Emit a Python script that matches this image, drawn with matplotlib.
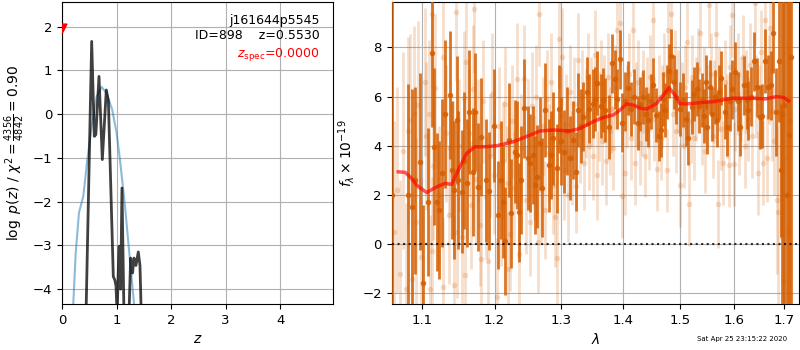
import matplotlib
matplotlib.use('Agg')
import matplotlib.pyplot as plt
import numpy as np
from matplotlib.ticker import FixedLocator, NullLocator, FuncFormatter

# ---------------- left panel data ----------------
z_pz = [0.0, 0.42, 0.44, 0.544, 0.592, 0.62, 0.678, 0.739, 0.812, 0.85, 0.94, 0.97, 0.99, 1.01,
        1.044, 1.075, 1.099, 1.136, 1.20, 1.227, 1.258, 1.294, 1.319, 1.355, 1.398, 1.429, 1.453, 1.48, 5.0]
logpz = [-9.0, -7.0, -4.6, 1.66, -0.51, -0.47, 0.86, -1.04, 0.55, 0.30, -3.71, -3.80, -3.93, -4.6,
         -3.02, -4.0, -1.69, -4.6, -6.0, -4.6, -3.29, -3.63, -3.29, -3.46, -3.15, -3.46, -4.6, -7.0, -9.0]

z_prior = [0.18, 0.207, 0.25, 0.311, 0.39, 0.464, 0.544, 0.635, 0.727, 0.818, 0.92, 1.0, 1.062,
           1.154, 1.245, 1.319, 1.34]
log_prior = [-5.0, -4.32, -3.2, -2.25, -1.88, -1.04, -0.28, 0.40, 0.62, 0.47, 0.10, -0.43, -1.04,
             -2.10, -3.33, -4.32, -4.7]

z_spec = 0.0
pz_max = 1.66
group_name = 'j161644p5545'
obj_id = 898
z_best = 0.5530
chi2_num = 4356
chi2_dof = 4842

# ---------------- right panel data ----------------
# stacked spectrum (dark)
wave_d = [1.061, 1.081, 1.086, 1.091, 1.0971, 1.1013, 1.1079, 1.1125, 1.1159,
          1.1192, 1.1226, 1.127, 1.131, 1.1370, 1.1396, 1.1430, 1.1464, 1.1487, 1.1533, 1.1570,
          1.1603, 1.1639, 1.1687, 1.1720, 1.1756, 1.1807, 1.1874, 1.1925, 1.1987, 1.2053, 1.2090,
          1.2128, 1.2152, 1.2202, 1.2238, 1.2294, 1.2330, 1.2360, 1.2381, 1.2429, 1.2484, 1.2520,
          1.2560, 1.2595, 1.2633, 1.2670, 1.2709, 1.2750, 1.2810, 1.2836, 1.2880, 1.2929, 1.2963,
          1.3000, 1.3037, 1.3090, 1.3138, 1.3190, 1.3232, 1.3270, 1.3310, 1.3350, 1.3403, 1.3450,
          1.3500, 1.3539, 1.3580, 1.3630, 1.3675, 1.3709, 1.3774, 1.3812, 1.3868, 1.3910, 1.3952,
          1.3985, 1.4030, 1.4082, 1.4133, 1.4190, 1.4263, 1.4300, 1.4349, 1.4390, 1.4435, 1.4480,
          1.4522, 1.4566, 1.4627, 1.4666, 1.4700, 1.4736, 1.4770, 1.4804, 1.4843, 1.4881, 1.4925,
          1.4990, 1.5056, 1.5100, 1.5147, 1.5209, 1.5250, 1.5300, 1.5350, 1.5392, 1.5430, 1.5470,
          1.5494, 1.5545, 1.5590, 1.5636, 1.5678, 1.5711, 1.5759, 1.5822, 1.5865, 1.5927, 1.5970,
          1.6016, 1.6070, 1.6124, 1.6187, 1.6249, 1.6281, 1.6340, 1.6398, 1.6450, 1.6514, 1.6560,
          1.6616, 1.6680, 1.6725, 1.6777, 1.6827, 1.6892, 1.6924, 1.6960, 1.7001, 1.7050, 1.7099,
          1.7132]
flux_d = [2.0, 2.0, 1.5, 2.6, 3.35, -1.59, 1.72, 7.76, 3.96,
          1.72, 1.39, 2.9, 5.3, 6.06, 3.01, 2.2, 5.04, 2.6, 2.13, 3.4,
          2.47, 5.37, 2.95, 5.36, 2.33, 4.37, 2.6, 2.17, 4.81, 1.18, 2.6,
          1.72, 0.13, 4.23, 1.25, 3.76, 3.62, 1.29, 2.6, 5.52, 3.5, 3.3,
          3.62, 2.4, 2.75, 4.1, 2.3, 5.45, 3.2, 3.62, 4.3, 3.08, 5.5,
          4.2, 3.76, 4.6, 3.5, 4.23, 2.95, 5.45, 4.8, 5.18, 6.2, 5.5,
          5.7, 5.89, 6.53, 5.6, 5.87, 5.45, 4.77, 7.35, 6.7, 5.9, 7.51,
          4.93, 5.8, 6.33, 5.5, 6.0, 4.91, 5.7, 5.99, 5.3, 5.04, 5.8,
          6.47, 5.26, 4.4, 4.64, 5.9, 5.45, 6.2, 7.05, 7.65, 6.6, 6.0,
          5.5, 5.85, 5.1, 4.3, 5.56, 6.1, 6.3, 5.6, 5.87, 5.2, 6.6,
          4.77, 6.4, 5.3, 5.98, 5.04, 6.2, 6.76, 5.39, 4.78, 5.8, 6.3,
          7.0, 5.8, 4.77, 6.45, 5.86, 5.45, 6.0, 7.44, 6.38, 5.15, 5.2,
          7.46, 6.38, 6.45, 8.57, 5.37, 7.45, 3.0, 5.3, 5.64, 2.0, 4.43,
          7.6]
err_d = [40, 4.5, 4.8, 3.8, 3.6, 3.2, 3.0, 3.0, 3.2,
         2.8, 2.8, 3.0, 3.0, 2.6, 2.8, 2.8, 2.6, 2.8, 2.5, 2.8,
         2.6, 2.5, 2.6, 2.4, 2.6, 2.4, 2.5, 2.4, 2.3, 2.2, 2.4,
         2.3, 2.2, 2.3, 2.2, 2.1, 2.2, 2.0, 2.2, 2.0, 2.1, 2.0,
         2.0, 2.0, 2.1, 1.9, 2.0, 1.9, 1.9, 1.8, 1.9, 1.8, 1.8,
         1.8, 1.7, 1.8, 1.7, 1.6, 1.6, 1.5, 1.5, 1.4, 1.4, 1.4,
         1.4, 1.3, 1.3, 1.3, 1.3, 1.3, 1.3, 1.2, 1.2, 1.2, 1.2,
         1.2, 1.2, 1.1, 1.1, 1.1, 1.1, 1.1, 1.1, 1.1, 1.1, 1.1,
         1.1, 1.1, 1.0, 1.1, 1.1, 1.1, 1.1, 1.1, 1.1, 1.1, 1.1,
         1.1, 1.1, 1.1, 1.1, 1.1, 1.1, 1.1, 1.1, 1.1, 1.1, 1.1,
         1.1, 1.1, 1.1, 1.1, 1.1, 1.1, 1.1, 1.1, 1.2, 1.2, 1.2,
         1.2, 1.2, 1.2, 1.2, 1.2, 1.2, 1.2, 1.2, 1.2, 1.3, 1.3,
         1.3, 1.3, 1.4, 1.6, 1.8, 2.5, 2.7, 15, 20, 30, 30,
         40]

# individual beams (light)
wave_l = [1.0635, 1.0670, 1.0705, 1.0745, 1.0787, 1.0815, 1.0841, 1.0860, 1.0890, 1.0920, 1.0948, 1.0985,
          1.1030, 1.1045, 1.1088, 1.1105, 1.1130, 1.1146, 1.1169, 1.1135, 1.1230, 1.1274, 1.1280, 1.1320,
          1.1354, 1.1380, 1.1410, 1.1425, 1.1450, 1.1470, 1.1500, 1.1533, 1.1560, 1.1580, 1.1590, 1.1630,
          1.1669, 1.1690, 1.1710, 1.1730, 1.1760, 1.1790, 1.1810, 1.1840, 1.1870, 1.1900, 1.1930, 1.1960,
          1.1990, 1.2029, 1.2060, 1.2090, 1.2120, 1.2150, 1.2180, 1.2200, 1.2230, 1.2260, 1.2290, 1.2330,
          1.2360, 1.2390, 1.2430, 1.2460, 1.2490, 1.2520, 1.2550, 1.2580, 1.2610, 1.2635, 1.2665, 1.2690,
          1.2720, 1.2750, 1.2780, 1.2810, 1.2840, 1.2870, 1.2900, 1.2930, 1.2963, 1.2990, 1.3020, 1.3050,
          1.3080, 1.3110, 1.3140, 1.3170, 1.3200, 1.3230, 1.3270, 1.3300, 1.3330, 1.3360, 1.3390, 1.3420,
          1.3450, 1.3480, 1.3510, 1.3540, 1.3567, 1.3600, 1.3630, 1.3660, 1.3690, 1.3720, 1.3750, 1.3780,
          1.3810, 1.3840, 1.3870, 1.3900, 1.3950, 1.3985, 1.4037, 1.4070, 1.4100, 1.4130, 1.4166, 1.4200,
          1.4230, 1.4260, 1.4290, 1.4320, 1.4350, 1.4380, 1.4410, 1.4440, 1.4470, 1.4510, 1.4540, 1.4585,
          1.4620, 1.4650, 1.4680, 1.4710, 1.4760, 1.4790, 1.4843, 1.4870, 1.4900, 1.4930, 1.4960, 1.4996,
          1.5030, 1.5060, 1.5090, 1.5130, 1.5160, 1.5190, 1.5220, 1.5250, 1.5280, 1.5320, 1.5370, 1.5400,
          1.5430, 1.5460, 1.5490, 1.5530, 1.5560, 1.5600, 1.5630, 1.5660, 1.5690, 1.5720, 1.5760, 1.5800,
          1.5830, 1.5870, 1.5900, 1.5930, 1.5960, 1.6000, 1.6030, 1.6070, 1.6100, 1.6140, 1.6170, 1.6210,
          1.6240, 1.6280, 1.6310, 1.6350, 1.6410, 1.6440, 1.6470, 1.6500, 1.6540, 1.6580, 1.6616, 1.6650,
          1.6690, 1.6720, 1.6760, 1.6800, 1.6860, 1.6880, 1.6930, 1.6980, 1.7030, 1.7080, 1.7120]
flux_l = [0.5, 2.2, -1.2, 3.8, -1.83, 4.6, 5.05, -1.42, 5.28, 0.9, 5.65, -0.5,
          6.6, 4.39, 5.3, -1.8, -0.27, 3.18, 6.35, 9.35, 2.0, 7.59, -1.74, 4.5,
          1.2, 3.9, 3.0, -1.65, 9.42, 0.5, 4.0, 0.3, 5.95, -1.25, 7.4, 4.5,
          1.6, 6.3, 9.56, 2.65, 4.2, 0.8, -0.6, 5.8, 1.9, -0.7, 3.6, 6.1,
          2.8, -2.14, 4.8, 1.5, 3.4, 5.7, 2.5, -1.0, 0.4, 5.0, 2.3, 6.7,
          -0.4, 3.9, 6.7, 1.8, 4.5, 0.9, 5.6, 3.1, 6.0, 0.1, 9.35, 2.2,
          4.8, 1.4, 5.9, 3.7, 6.6, 2.4, 1.09, -0.55, 8.33, 5.2, 7.6, 3.0,
          4.9, 2.0, 6.2, 3.5, 5.7, 2.37, 7.5, 4.4, 6.0, 3.3, 5.3, 6.8,
          4.0, 5.8, 3.6, 7.7, 2.8, 5.2, 6.5, 4.2, 5.9, 3.4, 6.8, 4.6,
          5.5, 3.9, 6.4, 8.7, 9.0, 1.97, 2.9, 5.6, 6.9, 4.3, 8.7, 3.3,
          5.7, 6.6, 4.1, 5.3, 6.2, 3.6, 5.9, 4.7, 6.8, 9.1, 5.1, 3.05,
          6.0, 4.3, 5.6, 6.9, 3.0, 8.7, 9.37, 5.3, 7.0, 4.6, 6.2, 2.4,
          5.7, 4.0, 6.4, 8.2, 1.63, 5.0, 6.8, 4.3, 5.9, 7.1, 8.6, 4.9,
          6.3, 3.8, 5.6, 9.7, 6.9, 4.4, 5.8, 8.55, 1.63, 6.3, 4.7, 3.3,
          6.6, 5.2, 3.2, 7.2, 9.3, 3.25, 5.5, 6.9, 4.5, 5.9, 7.6, 4.0,
          6.2, 5.1, 7.3, 4.4, 9.78, 6.0, 2.9, 5.6, 7.8, 3.3, 9.1, 3.5,
          6.7, 8.8, 5.4, 4.2, 1.8, 1.3, 6.2, -1.5, 3.5, 0.5, 5.0]
err_l = [4.5, 4.2, 3.8, 4.0, 3.5, 3.8, 3.5, 3.5, 3.6, 3.4, 3.4, 3.2,
         3.0, 3.0, 3.0, 3.0, 3.0, 3.0, 3.0, 3.0, 2.8, 2.8, 2.8, 2.8,
         2.8, 2.8, 2.8, 2.8, 2.8, 2.7, 2.7, 2.7, 2.7, 2.7, 2.7, 2.6,
         2.6, 2.6, 2.6, 2.6, 2.5, 2.5, 2.5, 2.5, 2.5, 2.5, 2.5, 2.5,
         2.4, 2.4, 2.4, 2.4, 2.4, 2.3, 2.3, 2.3, 2.3, 2.3, 2.3, 2.3,
         2.2, 2.2, 2.2, 2.2, 2.2, 2.2, 2.2, 2.1, 2.1, 2.1, 2.1, 2.1,
         2.0, 2.0, 2.0, 2.0, 2.0, 2.0, 2.0, 2.0, 2.0, 2.0, 2.0, 2.0,
         2.0, 1.9, 1.9, 1.9, 1.9, 1.9, 1.9, 1.9, 1.9, 1.9, 1.8, 1.8,
         1.8, 1.8, 1.8, 1.8, 1.8, 1.8, 1.8, 1.8, 1.8, 1.8, 1.8, 1.8,
         1.8, 1.7, 1.7, 1.7, 1.7, 1.7, 1.7, 1.7, 1.7, 1.7, 1.7, 1.7,
         1.7, 1.7, 1.7, 1.7, 1.7, 1.7, 1.7, 1.7, 1.7, 1.7, 1.7, 1.7,
         1.7, 1.7, 1.7, 1.7, 1.7, 1.7, 1.7, 1.7, 1.7, 1.7, 1.7, 1.7,
         1.7, 1.7, 1.7, 1.7, 1.7, 1.7, 1.7, 1.7, 1.7, 1.7, 1.7, 1.7,
         1.7, 1.7, 1.7, 1.7, 1.7, 1.7, 1.7, 1.7, 1.8, 1.7, 1.7, 1.7,
         1.7, 1.7, 1.7, 1.7, 1.7, 1.7, 1.7, 1.7, 1.7, 1.7, 1.7, 1.7,
         1.7, 1.7, 1.7, 1.7, 1.7, 1.7, 1.7, 1.7, 1.7, 1.7, 1.7, 1.8,
         1.8, 1.9, 2.0, 2.2, 3.0, 4.0, 6.0, 12, 20, 25, 30]

# best-fit model (red)
wave_m = [1.0687, 1.0775, 1.0861, 1.0926, 1.1058, 1.1192, 1.1304, 1.1396, 1.1487, 1.1603, 1.1720,
          1.1880, 1.2029, 1.2272, 1.2521, 1.2672, 1.2877, 1.3138, 1.3297, 1.3512, 1.3675, 1.3840,
          1.3952, 1.4065, 1.4177, 1.4300, 1.4407, 1.4582, 1.4698, 1.4799, 1.4906, 1.4996, 1.5117,
          1.5361, 1.5609, 1.5964, 1.6353, 1.6616, 1.6852, 1.6988, 1.7090]
flux_m = [2.94, 2.92, 2.67, 2.40, 2.10, 2.33, 2.47, 2.43, 3.01, 3.69, 3.96,
          3.96, 4.00, 4.16, 4.43, 4.60, 4.64, 4.60, 4.70, 4.98, 5.15, 5.25,
          5.45, 5.70, 5.65, 5.52, 5.49, 5.72, 6.06, 6.36, 6.06, 5.70, 5.70,
          5.75, 5.79, 5.93, 5.93, 5.90, 6.00, 5.96, 5.82]

timestamp = 'Sat Apr 25 23:15:22 2020'
g141_color = (0.8353, 0.3686, 0.0)

# ---------------- figure ----------------
fig = plt.figure(figsize=(8, 3.5), dpi=100)
ax = fig.add_axes([0.0775, 0.1314, 0.339, 0.8629])

ax.plot(z_prior, log_prior, color='C0', alpha=0.5, lw=1.5)
ax.plot(z_pz, logpz, color='k', alpha=0.75, lw=2)
ax.scatter([z_spec], [pz_max + 0.3], color='r', marker='v', s=40, zorder=50)
ax.set_xlim(0, 4.97)
ax.set_ylim(pz_max - 6, pz_max + 0.9)
ax.set_xticks([0, 1, 2, 3, 4])
ax.set_yticks([-4, -3, -2, -1, 0, 1, 2])
ax.grid()
ax.tick_params(labelsize=9.5)
ax.set_xlabel(r'$z$', fontsize=10)
ax.set_ylabel(r'$\log\ p(z)$' + ' / ' +
              r'$\chi^2=\frac{{{0:d}}}{{{1:d}}}={2:.2f}$'.format(chi2_num, chi2_dof, chi2_num / chi2_dof),
              fontsize=10)
ax.text(0.95, 0.96, group_name + '\n' + 'ID={0:<5d}  z={1:.4f}'.format(obj_id, z_best),
        ha='right', va='top', transform=ax.transAxes, fontsize=9)
ax.text(0.95, 0.855, r'$z_\mathrm{spec}$' + '={0:.4f}'.format(z_spec),
        ha='right', va='top', transform=ax.transAxes, color='r', fontsize=9)

ax2 = fig.add_axes([0.4896, 0.1314, 0.5095, 0.8629])
ax2.errorbar(wave_l, flux_l, yerr=err_l, marker='o', ms=4, linestyle='None', color=g141_color,
             alpha=0.2, elinewidth=2, mec='None', zorder=2)
ax2.errorbar(wave_d, flux_d, yerr=err_d, marker='o', ms=4, linestyle='None', color=g141_color,
             alpha=0.85, elinewidth=2, mec='None', zorder=3)
ax2.plot(wave_m, flux_m, color='r', alpha=0.65, lw=2.5, zorder=5)
ax2.set_xscale('log')
xl = (1.0603, 1.7309)
ax2.plot(xl, [0, 0], color='k', linestyle=':', lw=1.5, alpha=0.8, zorder=4)
ax2.set_xlim(xl)
ax2.set_ylim(-2.43, 9.84)
ax2.xaxis.set_major_locator(FixedLocator([1.1, 1.2, 1.3, 1.4, 1.5, 1.6, 1.7]))
ax2.xaxis.set_minor_locator(NullLocator())
ax2.xaxis.set_major_formatter(FuncFormatter(lambda v, p: '{0:.1f}'.format(v)))
ax2.set_yticks([-2, 0, 2, 4, 6, 8])
ax2.grid()
ax2.set_axisbelow(True)
ax2.tick_params(labelsize=9.5)
ax2.set_xlabel(r'$\lambda$', fontsize=10)
ax2.set_ylabel(r'$f_\lambda\times10^{-19}$', fontsize=10)

fig.text(0.984, 0.022, timestamp, ha='right', va='bottom', fontsize=5)

fig.savefig('out.png', dpi=100)
